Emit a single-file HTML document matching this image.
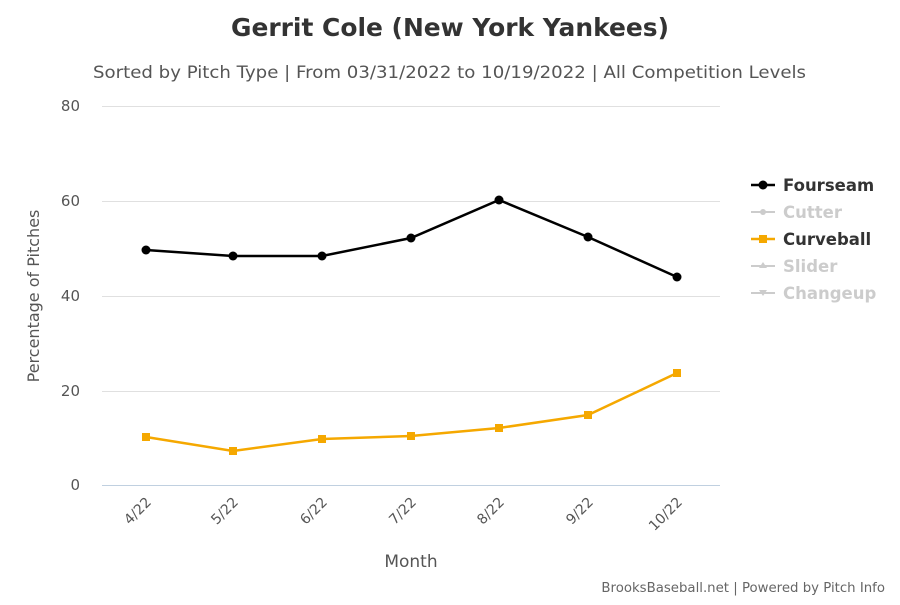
<!DOCTYPE html>
<html><head><meta charset="utf-8"><style>html,body{margin:0;padding:0;background:#fff}</style></head>
<body>
<svg width="900" height="600" xmlns="http://www.w3.org/2000/svg" font-family="DejaVu Sans, Liberation Sans, sans-serif">
<rect width="900" height="600" fill="#fff"/>
<text x="231" y="36" font-size="25" font-weight="bold" fill="#333" textLength="438" lengthAdjust="spacingAndGlyphs">Gerrit Cole (New York Yankees)</text>
<text x="93" y="78" font-size="17" fill="#555" textLength="713" lengthAdjust="spacingAndGlyphs">Sorted by Pitch Type | From 03/31/2022 to 10/19/2022 | All Competition Levels</text>
<g stroke="#e0e0e0" stroke-width="1">
<line x1="102" x2="720" y1="106.5" y2="106.5"/>
<line x1="102" x2="720" y1="201.5" y2="201.5"/>
<line x1="102" x2="720" y1="296.5" y2="296.5"/>
<line x1="102" x2="720" y1="391.5" y2="391.5"/>
</g>
<line x1="102" x2="720" y1="485.5" y2="485.5" stroke="#c0d0e0"/>
<g font-size="15" fill="#555" text-anchor="end">
<text x="80" y="111">80</text><text x="80" y="206">60</text><text x="80" y="301">40</text><text x="80" y="396">20</text><text x="80" y="490">0</text>
</g>
<text transform="translate(39,296) rotate(-90)" text-anchor="middle" font-size="16" fill="#555">Percentage of Pitches</text>
<g font-size="14" fill="#555" text-anchor="end">
<text transform="translate(152,503) rotate(-45)">4/22</text>
<text transform="translate(239,503) rotate(-45)">5/22</text>
<text transform="translate(328,503) rotate(-45)">6/22</text>
<text transform="translate(417,503) rotate(-45)">7/22</text>
<text transform="translate(505,503) rotate(-45)">8/22</text>
<text transform="translate(594,503) rotate(-45)">9/22</text>
<text transform="translate(683,503) rotate(-45)">10/22</text>
</g>
<text x="411" y="567" text-anchor="middle" font-size="17" fill="#555">Month</text>
<polyline fill="none" stroke="#000" stroke-width="2.5" points="146,250 233,256 322,256 411,238 499,200 588,237 677,277"/>
<g fill="#000">
<circle cx="146" cy="250" r="4.5"/><circle cx="233" cy="256" r="4.5"/><circle cx="322" cy="256" r="4.5"/><circle cx="411" cy="238" r="4.5"/><circle cx="499" cy="200" r="4.5"/><circle cx="588" cy="237" r="4.5"/><circle cx="677" cy="277" r="4.5"/>
</g>
<polyline fill="none" stroke="#f5a800" stroke-width="2.5" points="146,437 233,451 322,439 411,436 499,428 588,415 677,373"/>
<g fill="#f5a800">
<rect x="142" y="433" width="8" height="8"/><rect x="229" y="447" width="8" height="8"/><rect x="318" y="435" width="8" height="8"/><rect x="407" y="432" width="8" height="8"/><rect x="495" y="424" width="8" height="8"/><rect x="584" y="411" width="8" height="8"/><rect x="673" y="369" width="8" height="8"/>
</g>
<g font-size="16.5" font-weight="bold">
<line x1="751" x2="775" y1="185" y2="185" stroke="#000" stroke-width="2.5"/><circle cx="763" cy="185" r="4.5" fill="#000"/>
<text x="783" y="191" fill="#333">Fourseam</text>
<line x1="751" x2="775" y1="212" y2="212" stroke="#ccc" stroke-width="2"/><circle cx="763" cy="212" r="3" fill="#ccc"/>
<text x="783" y="218" fill="#ccc">Cutter</text>
<line x1="751" x2="775" y1="239" y2="239" stroke="#f5a800" stroke-width="2.5"/><rect x="759" y="235" width="8" height="8" fill="#f5a800"/>
<text x="783" y="245" fill="#333">Curveball</text>
<line x1="751" x2="775" y1="266" y2="266" stroke="#ccc" stroke-width="2"/><path d="M763,262 l4,6 h-8z" fill="#ccc"/>
<text x="783" y="272" fill="#ccc">Slider</text>
<line x1="751" x2="775" y1="293" y2="293" stroke="#ccc" stroke-width="2"/><path d="M759,290 h8 l-4,6z" fill="#ccc"/>
<text x="783" y="299" fill="#ccc">Changeup</text>
</g>
<text x="885" y="592" text-anchor="end" font-size="13.3" fill="#666">BrooksBaseball.net | Powered by Pitch Info</text>
</svg>
</body></html>
